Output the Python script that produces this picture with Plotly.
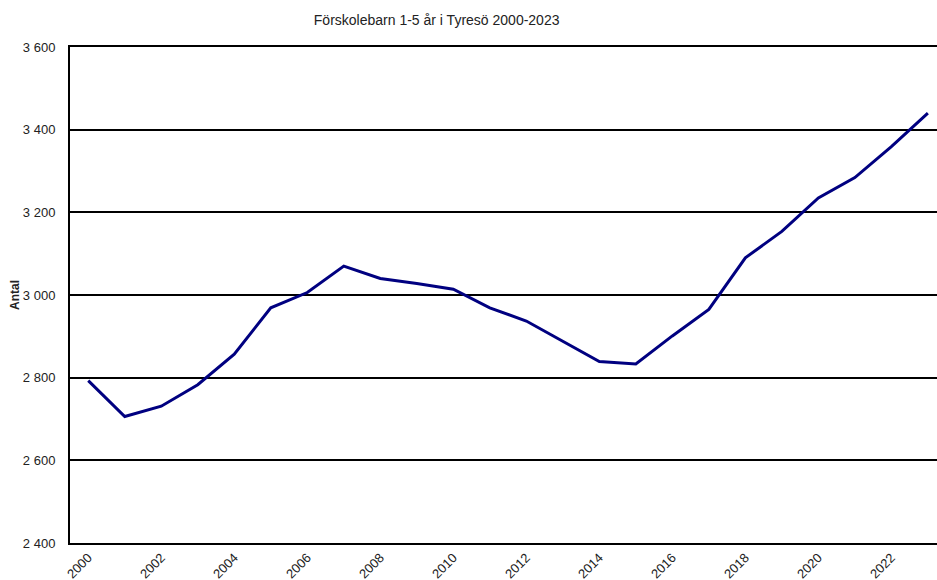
import plotly.graph_objects as go

years = list(range(2000, 2024))
antal = [2793, 2706, 2731, 2783, 2857, 2969, 3006, 3070, 3040, 3028, 3014, 2969,
         2937, 2889, 2839, 2833, 2901, 2965, 3090, 3154, 3235, 3284, 3359, 3440]
x_ticks = list(range(2000, 2024, 2))
y_ticks = [2400, 2600, 2800, 3000, 3200, 3400, 3600]

fig = go.Figure()
fig.add_trace(go.Scatter(x=years, y=antal, mode="lines",
                         line=dict(color="#000080", width=3), showlegend=False))

fig.update_layout(
    width=937, height=580,
    margin=dict(l=70, r=0, t=47, b=37),
    paper_bgcolor="white", plot_bgcolor="white",
    separators=", ",
    font=dict(family="Liberation Sans, Arial, sans-serif", size=12, color="#222"),
    title=dict(text="Förskolebarn 1-5 år i Tyresö 2000-2023", x=0.466, xref="container",
               xanchor="center", y=0.966, yanchor="middle",
               font=dict(size=14, color="#222")),
)
fig.update_xaxes(range=[1999.5, 2023.25], tickvals=x_ticks, tickangle=-45,
                 showgrid=False, zeroline=False, showline=True, linecolor="black",
                 linewidth=2, mirror=True, ticks="", automargin=False,
                 tickfont=dict(size=13))
fig.update_yaxes(range=[2400, 3600], tickvals=y_ticks, tickformat=",d",
                 showgrid=True, gridcolor="black", gridwidth=1.5, zeroline=False,
                 showline=True, linecolor="black", linewidth=2, ticks="",
                 ticklabelstandoff=10,
                 title=dict(text="<b>Antal</b>", standoff=1, font=dict(size=12)),
                 tickfont=dict(size=13))
fig.write_html("out.html", config={"displayModeBar": False},
               post_script="document.body.style.margin='0px';document.body.style.overflow='hidden';")
